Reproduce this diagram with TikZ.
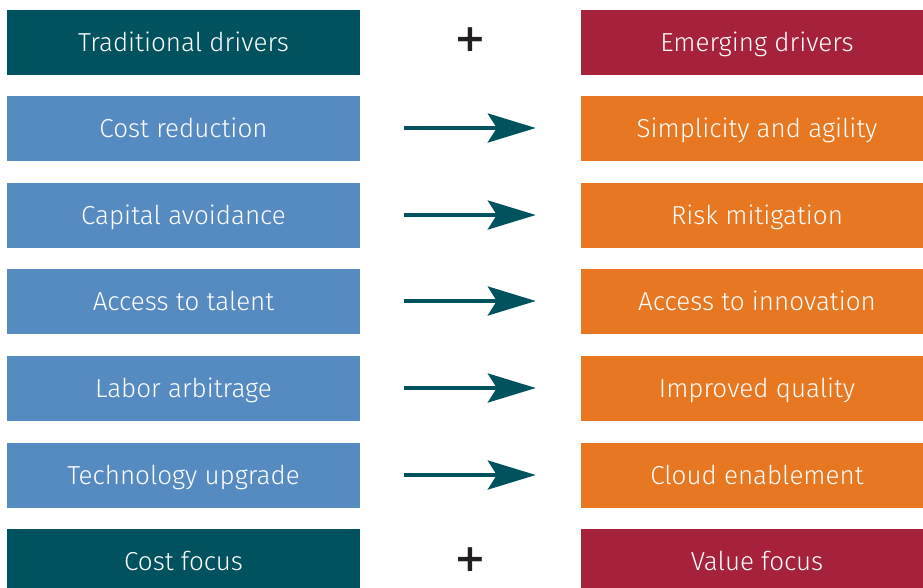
\documentclass[tikz,border=0pt]{standalone}
\usepackage{fontspec}
\setmainfont{Fira Sans}[UprightFont=* Light, BoldFont=* Bold]
\newfontfamily\plusfont{DejaVu Sans Bold}
\usetikzlibrary{arrows.meta}
\definecolor{teal}{HTML}{00535E}
\definecolor{bluebox}{HTML}{568BC1}
\definecolor{orangebox}{HTML}{E87722}
\definecolor{crimson}{HTML}{A6213A}
\definecolor{plusink}{HTML}{231F20}
\tikzset{
  box/.style={rectangle, inner sep=0pt, text=white, text height=20pt, text depth=2pt,
    font=\fontsize{26}{31}\selectfont},
  lbox/.style={box, minimum width=353pt, minimum height=65pt},
  rbox/.style={box, minimum width=352pt, minimum height=65pt},
  headl/.style={lbox, fill=teal},
  headr/.style={rbox, fill=crimson},
  trad/.style={lbox, fill=bluebox},
  emer/.style={rbox, fill=orangebox},
  plussign/.style={text=plusink, inner sep=0pt, font=\plusfont\fontsize{38}{38}\selectfont},
  drive/.style={draw=teal, line width=4pt, shorten <=44pt, shorten >=45pt,
    -{Stealth[length=48pt, width=29pt, inset=9pt]}},
}
\begin{document}
\begin{tikzpicture}[x=1pt,y=-1pt]
\useasboundingbox (0,0) rectangle (923,587);
\node[headl] (h1) at (183.5,42.5) {Traditional drivers};
\node[headr] (h2) at (757,42.5) {Emerging drivers};
\node[plussign] (p1) at (470,40) {+};
\node[trad] (l1) at (183.5,128) {Cost reduction};
\node[trad] (l2) at (183.5,215) {Capital avoidance};
\node[trad] (l3) at (183.5,301) {Access to talent};
\node[trad] (l4) at (183.5,388) {Labor arbitrage};
\node[trad] (l5) at (183.5,475) {Technology upgrade};
\node[emer] (r1) at (757,128) {Simplicity and agility};
\node[emer] (r2) at (757,215) {Risk mitigation};
\node[emer] (r3) at (757,301) {Access to innovation};
\node[emer] (r4) at (757,388) {Improved quality};
\node[emer] (r5) at (757,475) {Cloud enablement};
\node[headl] (f1) at (183.5,561.5) {Cost focus};
\node[headr] (f2) at (757,561.5) {Value focus};
\node[plussign] (p2) at (470,560) {+};
\foreach \i in {1,...,5} {\draw[drive] (l\i.east) -- (r\i.west);}
\end{tikzpicture}
\end{document}
